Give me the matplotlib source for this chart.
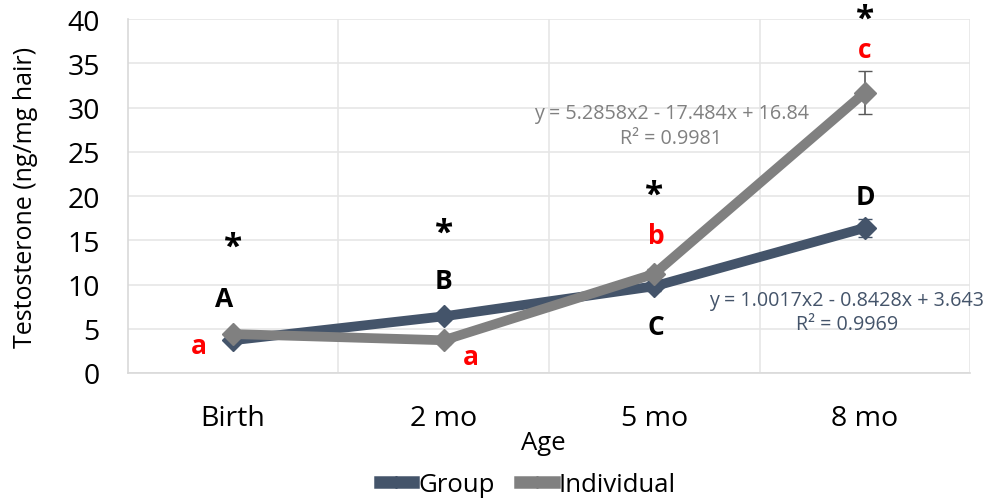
import matplotlib
matplotlib.use('Agg')
import matplotlib.pyplot as plt
from matplotlib.ticker import FixedLocator
from matplotlib.lines import Line2D

plt.rcParams['font.family'] = ['Open Sans', 'DejaVu Sans']

ages = ['Birth', '2 mo', '5 mo', '8 mo']
group = [3.7, 6.4, 9.8, 16.4]
group_err = [0.3, 0.4, 0.5, 1.0]
individual = [4.4, 3.7, 11.2, 31.7]
individual_err = [0.4, 0.4, 0.6, 2.4]

group_col = '#44546A'
indiv_col = '#808080'

# letters above/below the points: (text, x, y, colour)
labels = [
    ('*', 0, 14.2, 'black'), ('A', -0.04, 8.4, 'black'), ('a', -0.16, 3.1, 'red'),
    ('*', 1, 15.8, 'black'), ('B', 1.0, 10.4, 'black'), ('a', 1.13, 1.9, 'red'),
    ('*', 2, 20.1, 'black'), ('b', 2.01, 15.5, 'red'), ('C', 2.01, 5.3, 'black'),
    ('*', 3, 40.0, 'black'), ('c', 3.0, 36.6, 'red'), ('D', 3.0, 20.0, 'black'),
]

fig, ax = plt.subplots(figsize=(9.9, 5.02), dpi=100)
fig.subplots_adjust(left=0.129, right=0.98, top=0.96, bottom=0.255)

x = list(range(len(ages)))
ax.errorbar(x, group, yerr=group_err, color=group_col, lw=7, marker='D', ms=11,
            ecolor=group_col, elinewidth=1.2, capsize=5, zorder=3)
ax.errorbar(x, individual, yerr=individual_err, color=indiv_col, lw=7, marker='D', ms=11,
            ecolor='#595959', elinewidth=1.2, capsize=5, zorder=4)

for txt, tx, ty, col in labels:
    ax.text(tx, ty, txt, color=col, fontsize=19 if txt != '*' else 24,
            fontweight='bold', ha='center', va='center', zorder=5, clip_on=False)

ax.text(2.08, 28.0, 'y = 5.2858x2 - 17.484x + 16.84\nR² = 0.9981', color=indiv_col,
        fontsize=14.2, ha='center', va='center', linespacing=1.3, zorder=5)
ax.text(2.915, 6.9, 'y = 1.0017x2 - 0.8428x + 3.643\nR² = 0.9969', color=group_col,
        fontsize=14.2, ha='center', va='center', linespacing=1.3, zorder=5,
        clip_on=False)

ax.set_xlim(-0.5, 3.5)
ax.set_ylim(0, 40)
ax.set_yticks(range(0, 41, 5))
ax.set_xticks(x)
ax.set_xticklabels(ages)
ax.xaxis.set_minor_locator(FixedLocator([0.5, 1.5, 2.5, 3.5]))
ax.tick_params(axis='both', which='both', length=0, labelsize=20.5)
ax.tick_params(axis='x', pad=22)
ax.tick_params(axis='y', pad=20)
ax.grid(axis='y', color='#E6E6E6', lw=1.2)
ax.grid(axis='x', which='minor', color='#E6E6E6', lw=1.2)
ax.set_axisbelow(True)
for s in ['top', 'right']:
    ax.spines[s].set_visible(False)
for s in ['left', 'bottom']:
    ax.spines[s].set_color('#D9D9D9')
    ax.spines[s].set_linewidth(1.2)

ax.set_ylabel('Testosterone (ng/mg hair)', fontsize=18)
ax.yaxis.set_label_coords(-0.107, 0.5)
ax.set_xlabel('Age', fontsize=18.5)
ax.xaxis.set_label_coords(0.493, -0.16)

handles = [Line2D([], [], color=group_col, lw=9, marker='D', ms=6),
           Line2D([], [], color=indiv_col, lw=9, marker='D', ms=6)]
ax.legend(handles, ['Group', 'Individual'], loc='upper center',
          bbox_to_anchor=(0.475, -0.235), ncol=2, frameon=False, fontsize=18.5,
          handlelength=1.3, handletextpad=0.2, columnspacing=1.0,
          borderpad=0.1)

fig.savefig('out.png', dpi=100)
